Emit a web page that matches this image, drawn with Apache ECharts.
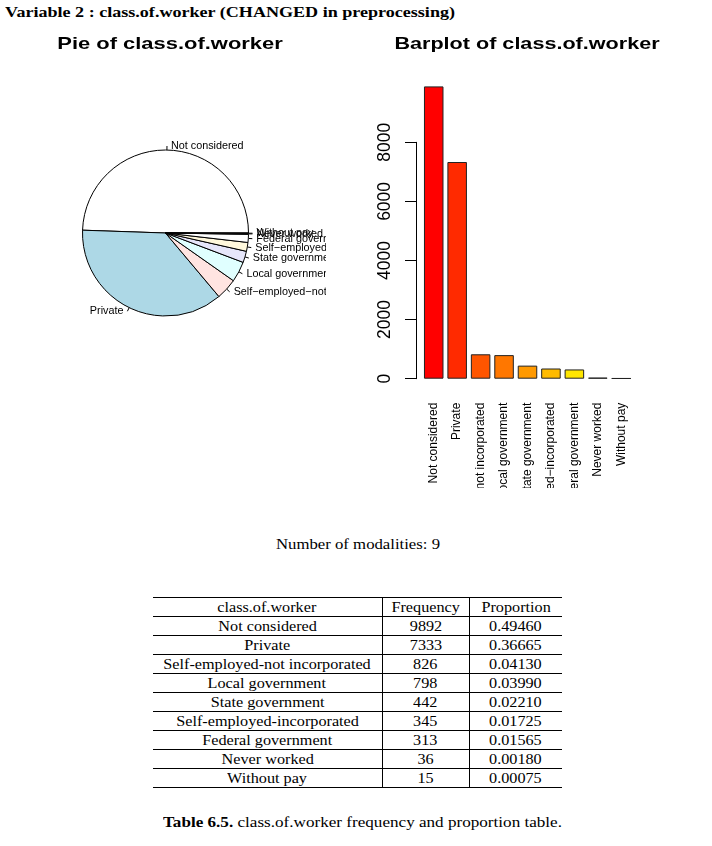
<!DOCTYPE html>
<html><head><meta charset="utf-8">
<script src="https://cdn.jsdelivr.net/npm/echarts@6/dist/echarts.min.js"></script>
<style>
html,body{margin:0;padding:0;background:#fff}
body{width:712px;height:846px;position:relative;overflow:hidden;font-family:"Liberation Serif",serif;color:#000}
.abs{position:absolute;white-space:nowrap;transform-origin:0 0;line-height:1}
#pie{position:absolute;left:0;top:0;width:326px;height:490px}
#bar{position:absolute;left:326px;top:0;width:386px;height:488px}
table{position:absolute;left:153px;top:597px;width:409px;border-collapse:collapse;table-layout:fixed;font-size:15px}
td{height:18px;padding:0;text-align:center;border-top:1px solid #000;border-bottom:1px solid #000;line-height:18px;white-space:nowrap;overflow:visible}
td.mid{border-left:1px solid #000;border-right:1px solid #000}
td span{display:inline-block;transform:scaleX(1.08);transform-origin:50% 50%}
</style></head><body>
<div class="abs" id="hdr" style="left:5px;top:6px;font-weight:bold;font-size:14px">Variable 2 : class.of.worker (CHANGED in preprocessing)</div>
<div id="pie"></div>
<div id="bar"></div>
<div class="abs" id="nmod" style="left:276px;top:537px;font-size:14.5px">Number of modalities: 9</div>
<table id="tbl"><colgroup><col style="width:229px"><col style="width:87px"><col style="width:93px"></colgroup><tbody id="tb"></tbody></table>
<div class="abs" id="cap" style="left:163px;top:815px;font-size:14.5px"><b>Table 6.5.</b> class.of.worker frequency and proportion table.</div>
<script>
// ---- data ----
const categories = ["Not considered","Private","Self-employed-not incorporated","Local government","State government","Self-employed-incorporated","Federal government","Never worked","Without pay"];
const frequency = [9892,7333,826,798,442,345,313,36,15];
const proportion = ["0.49460","0.36665","0.04130","0.03990","0.02210","0.01725","0.01565","0.00180","0.00075"];
const tableHeader = ["class.of.worker","Frequency","Proportion"];
const yTicks = [0,2000,4000,6000,8000];
const pieColors = ["#FFFFFF","#ADD8E6","#FFE4E1","#E0FFFF","#E6E6FA","#FFF8DC","#FFFFFF","#ADD8E6","#FFE4E1"];
const barColors = ["#FF0000","#FF2A00","#FF5500","#FF7700","#FF9900","#FFBB00","#FFE600","#FFFF40","#FFFF80"];

const rLabel = s => s.replace(/-/g, "\u2212");

// ---- table ----
const tb = document.getElementById("tb");
function addRow(cells){
  const tr = document.createElement("tr");
  cells.forEach((c,i)=>{const td=document.createElement("td"); if(i===1) td.className="mid"; const sp=document.createElement("span"); sp.textContent=c; td.appendChild(sp); tr.appendChild(td);});
  tb.appendChild(tr);
}
addRow(tableHeader);
categories.forEach((c,i)=>addRow([c, String(frequency[i]), proportion[i]]));

// ---- fit text widths ----
function fit(id, w){const el=document.getElementById(id); const nat=el.getBoundingClientRect().width; el.style.transform="scaleX("+(w/nat)+")";}
fit("hdr", 450); fit("nmod", 164); fit("cap", 399);

const SANS = '"Liberation Sans", Arial, sans-serif';

// ---- pie ----
const pie = echarts.init(document.getElementById("pie"), null, {renderer:"canvas"});
pie.setOption({
  animation:false,
  graphic:[{type:"text", x:170, y:44, scaleX:1.29, style:{text:"Pie of class.of.worker", font:'bold 17px '+SANS, fill:"#000", textAlign:"center", textVerticalAlign:"middle"}}],
  series:[{
    type:"pie", center:[165.5,233], radius:83, startAngle:0, clockwise:false,
    avoidLabelOverlap:false, silent:true, minShowLabelAngle:0,
    labelLayout:{hideOverlap:false, moveOverlap:null},
    data: categories.map((c,i)=>({name:rLabel(c), value:frequency[i], itemStyle:{color:pieColors[i]}})),
    itemStyle:{borderColor:"#000", borderWidth:1},
    label:{show:true, position:"outside", color:"#000", fontSize:10.8, fontFamily:SANS, distanceToLabelLine:4, overflow:"none"},
    labelLine:{show:true, length:4, length2:0, lineStyle:{color:"#000", width:1}},
    emphasis:{disabled:true}
  }]
});

// ---- bar ----
const bar = echarts.init(document.getElementById("bar"), null, {renderer:"canvas"});
const pxPerUnit = 236.4/8000;
bar.setOption({
  animation:false,
  graphic:[{type:"text", x:201, y:44, scaleX:1.27, style:{text:"Barplot of class.of.worker", font:'bold 17px '+SANS, fill:"#000", textAlign:"center", textVerticalAlign:"middle"}}],
  grid:[
    {left:96, width:211, top:378.7-10000*pxPerUnit, height:10000*pxPerUnit, outerBoundsMode:"none", containLabel:false},
    {left:90, width:1, top:378.7-8000*pxPerUnit, height:8000*pxPerUnit, outerBoundsMode:"none", containLabel:false}
  ],
  xAxis:[
    {type:"category", gridIndex:0, data:categories.map(rLabel), axisLine:{show:false}, axisTick:{show:false}, splitLine:{show:false},
     axisLabel:{interval:0, rotate:90, margin:24, fontSize:12, fontFamily:SANS, color:"#000", hideOverlap:false}},
    {type:"value", gridIndex:1, min:0, max:1, show:false}
  ],
  yAxis:[
    {type:"value", gridIndex:0, min:0, max:10000, show:false},
    {type:"value", gridIndex:1, min:yTicks[0], max:yTicks[yTicks.length-1], interval:2000,
     axisLine:{show:true, lineStyle:{color:"#000", width:1}},
     axisTick:{show:true, length:11, lineStyle:{color:"#000", width:1}},
     splitLine:{show:false},
     axisLabel:{rotate:90, margin:22, fontSize:17.5, fontFamily:SANS, color:"#000", hideOverlap:false, formatter:v=>String(v)}}
  ],
  series:[{
    type:"bar", xAxisIndex:0, yAxisIndex:0, silent:true, barCategoryGap:"16.7%",
    data: frequency.map((v,i)=>({value:v, itemStyle:{color:barColors[i]}})),
    itemStyle:{borderColor:"#222", borderWidth:1},
    emphasis:{disabled:true}
  }]
});
</script>
</body></html>
